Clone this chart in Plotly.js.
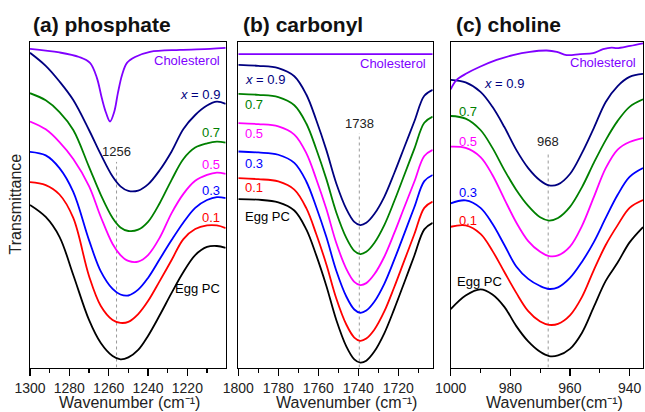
<!DOCTYPE html>
<html>
<head>
<meta charset="utf-8">
<script src="https://cdn.plot.ly/plotly-3.0.1.min.js"></script>
<style>html,body{margin:0;padding:0;background:#fff}#chart{width:645px;height:412px}</style>
</head>
<body>
<div id="chart"></div>
<script>
// ---------- (a) phosphate ----------
const wnA = [1300,1292,1285,1278,1270,1264,1258,1254,1250,1245,1240,1234,1228,1222,1216,1210,1205,1200.5];
const eggA = [49.9,46.2,40.1,28.4,14.6,7.5,3.5,2.5,3.1,5.4,9.7,16.1,22.9,29.3,34.5,37.0,37.3,36.7];
const x01A = [56.9,56.0,53.1,45.9,28.1,18.9,14.6,13.7,14.0,16.4,20.4,26.6,33.0,39.4,42.5,43.6,43.6,42.8];
const x03A = [66.2,65.1,61.2,53.9,39.1,29.5,24.1,22.4,22.1,23.9,27.5,33.3,39.1,44.5,49.0,51.4,52.3,52.0];
const x05A = [75.5,73.1,69.2,64.0,55.7,46.2,37.9,34.5,32.7,32.5,34.5,39.9,47.4,53.3,57.3,59.1,59.8,59.4];
const x07A = [84.2,82.0,78.4,72.9,61.6,53.0,45.9,43.0,41.9,42.3,44.7,50.5,57.6,64.0,67.5,68.8,69.3,69.0];
const x09A = [96.6,92.6,87.8,82.1,72.9,65.4,58.6,55.6,54.2,54.3,56.2,60.6,66.3,73.2,77.5,80.4,81.6,80.9];
const cholWnA = [1300,1285,1275,1269.5,1266,1263.5,1261.3,1259.3,1257.2,1255.3,1253.2,1250.7,1246.6,1239,1223.7,1208.5,1200.5];
const cholA = [97.8,96.7,95.3,93.5,88.9,82.7,78.1,75.5,78.4,84.3,89.8,93.5,95.3,96.9,97.5,97.8,98.1];
const peakA = 1256;

// ---------- (b) carbonyl ----------
const wnB = [1800,1790,1780,1772,1766,1761,1756,1751,1746,1742,1739,1736,1732,1727,1722,1717,1712,1707,1702.8];
const eggB = [51.7,51.5,50.7,48.2,42.4,34.4,25.1,14.6,6.5,2.5,1.5,2.1,4.9,10.5,18.0,26.1,34.3,42.4,44.4];
const x01B = [58.1,57.8,57.1,54.6,48.9,40.9,31.7,21.2,13.2,9.2,8.2,8.9,11.6,17.2,24.7,32.8,40.9,49.0,50.9];
const x03B = [66.3,66.0,65.3,62.8,57.1,49.2,40.1,29.7,21.8,17.8,16.8,17.5,20.2,25.7,33.1,41.1,49.2,57.2,59.1];
const x05B = [75.0,74.7,74.0,71.5,65.8,57.8,48.7,38.2,30.3,26.3,25.3,25.9,28.6,34.0,41.3,49.2,57.0,64.9,66.8];
const x07B = [84.0,83.7,83.0,80.5,74.9,67.0,57.9,47.6,39.8,35.8,34.8,35.5,38.2,43.7,51.1,59.1,67.1,75.1,77.0];
const x09B = [92.9,92.6,91.9,89.4,83.8,75.9,66.8,56.5,48.7,44.7,43.7,44.4,47.1,52.4,59.7,67.6,75.5,83.4,85.2];
const cholWnB = [1800,1750,1702.8];
const cholB = [96.2,96.2,96.2];
const peakB = 1739.5;

// ---------- (c) choline ----------
const wnC = [1000,995,990,986,982,978,974,970,967,964,960,956,952,948,944,940,935.5];
const eggC = [17.9,22.1,24.0,22.4,18.6,12.7,8.0,4.8,3.5,3.7,5.7,10.6,18.6,26.6,32.2,38.4,43.1];
const x01C = [43.2,43.6,41.0,35.8,29.3,22.9,17.3,14.1,13.1,13.4,16.0,21.6,29.9,37.6,43.7,49.0,51.4];
const x03C = [50.4,51.3,49.0,44.1,37.6,31.0,27.2,25.0,24.1,24.6,27.5,32.4,38.5,45.9,53.0,58.5,61.2];
const x05C = [67.8,67.4,64.6,59.1,51.7,44.5,38.8,35.5,34.2,34.4,37.1,43.4,52.3,61.2,66.9,69.2,70.4];
const x07C = [77.2,76.4,72.9,67.4,60.6,54.5,49.6,46.1,45.1,45.9,49.3,55.3,62.8,69.8,75.7,80.0,82.3];
const x09C = [88.3,87.5,84.6,80.0,73.8,66.8,61.2,57.4,55.9,56.2,59.4,65.8,73.5,81.5,86.4,89.2,90.1];
const cholWnC = [1000,998,994.6,990.2,984.6,979.1,973.4,967.8,964.4,961.1,956.6,952.2,948.9,946,944.3,939.8,935.5];
const cholC = [85.4,88.3,90.3,92.3,94.4,95.9,96.9,97.3,96.9,95.9,96.2,96.5,97.7,98.2,98.0,98.7,99.5];
const peakC = 967.3;

const seriesNames = ['Egg PC','0.1','0.3','0.5','0.7','x = 0.9','Cholesterol'];
const colors = ['#000000','#FF0000','#0000FF','#FF00FF','#008000','#000080','#8000FF'];

const FONT = 'Arial, "Liberation Sans", sans-serif';
const W = 645, H = 412;
const px = v => v / W, py = v => 1 - v / H;

function mk(x, y, i, ax) {
  return {x: x, y: y, type: 'scatter', mode: 'lines', name: seriesNames[i],
    xaxis: 'x' + ax, yaxis: 'y' + ax,
    line: {color: colors[i], width: 1.8, shape: 'spline', smoothing: 1},
    hoverinfo: 'skip', showlegend: false};
}
const data = [
  mk(wnA, eggA, 0, ''), mk(wnA, x01A, 1, ''), mk(wnA, x03A, 2, ''), mk(wnA, x05A, 3, ''),
  mk(wnA, x07A, 4, ''), mk(wnA, x09A, 5, ''), mk(cholWnA, cholA, 6, ''),
  mk(wnB, eggB, 0, '2'), mk(wnB, x01B, 1, '2'), mk(wnB, x03B, 2, '2'), mk(wnB, x05B, 3, '2'),
  mk(wnB, x07B, 4, '2'), mk(wnB, x09B, 5, '2'), mk(cholWnB, cholB, 6, '2'),
  mk(wnC, eggC, 0, '3'), mk(wnC, x01C, 1, '3'), mk(wnC, x03C, 2, '3'), mk(wnC, x05C, 3, '3'),
  mk(wnC, x07C, 4, '3'), mk(wnC, x09C, 5, '3'), mk(cholWnC, cholC, 6, '3')
];

const yDom = [py(367.5), py(41.7)];
function xax(dom, range, anchor) {
  return {domain: dom, range: range, anchor: anchor, showgrid: false, zeroline: false,
    showline: true, mirror: true, linecolor: '#000', linewidth: 1.2,
    ticks: 'outside', ticklen: 7, tickwidth: 1.2, tickcolor: '#000', dtick: 20, tick0: 0,
    ticklabelstandoff: 0,
    minor: {ticks: 'outside', ticklen: 4, tickwidth: 1.2, tickcolor: '#000', dtick: 10},
    tickfont: {family: FONT, size: 14, color: '#222'}, fixedrange: true};
}
function yax(anchor) {
  return {domain: yDom, range: [0, 100], anchor: anchor, showgrid: false, zeroline: false,
    showline: true, mirror: true, linecolor: '#000', linewidth: 1.2,
    ticks: '', showticklabels: false, fixedrange: true};
}

function lab(text, x, y, i, ax, anchor) {
  return {text: text, x: x, y: y, xref: 'x' + ax, yref: 'y' + ax, showarrow: false,
    xanchor: anchor, yanchor: 'middle', font: {family: FONT, size: 13, color: colors[i]}};
}
function xtitle(text, cx) {
  return {text: text, x: px(cx), y: 0, xref: 'paper', yref: 'paper', showarrow: false,
    xanchor: 'center', yanchor: 'bottom', borderpad: 0, font: {family: FONT, size: 16, color: '#222'}};
}
const annotations = [
  // panel a
  lab('Cholesterol', 1202.4, 94.2, 6, '', 'right'),
  lab('<i>x</i> = 0.9', 1202.4, 83.7, 5, '', 'right'),
  lab('0.7', 1202.4, 72.0, 4, '', 'right'),
  lab('0.5', 1202.4, 62.2, 3, '', 'right'),
  lab('0.3', 1202.4, 54.2, 2, '', 'right'),
  lab('0.1', 1202.4, 45.9, 1, '', 'right'),
  lab('Egg PC', 1202.4, 24.4, 0, '', 'right'),
  {text: '1256', x: peakA, y: 66.2, xref: 'x', yref: 'y', showarrow: false,
    xanchor: 'center', yanchor: 'middle', font: {family: FONT, size: 13, color: '#222'}},
  // panel b
  lab('Cholesterol', 1705.2, 93.4, 6, '2', 'right'),
  lab('<i>x</i> = 0.9', 1797.5, 88.5, 5, '2', 'left'),
  lab('0.7', 1797.5, 80.6, 4, '2', 'left'),
  lab('0.5', 1797.5, 71.9, 3, '2', 'left'),
  lab('0.3', 1797.5, 62.7, 2, '2', 'left'),
  lab('0.1', 1797.5, 55.2, 1, '2', 'left'),
  lab('Egg PC', 1797.5, 46.3, 0, '2', 'left'),
  {text: '1738', x: peakB, y: 74.8, xref: 'x2', yref: 'y2', showarrow: false,
    xanchor: 'center', yanchor: 'middle', font: {family: FONT, size: 13, color: '#222'}},
  // panel c
  lab('Cholesterol', 937.1, 93.7, 6, '3', 'right'),
  lab('<i>x</i> = 0.9', 989.6, 87.2, 5, '3', 'left'),
  lab('0.7', 998, 78.7, 4, '3', 'left'),
  lab('0.5', 998, 69.3, 3, '3', 'left'),
  lab('0.3', 998, 53.8, 2, '3', 'left'),
  lab('0.1', 998, 45.1, 1, '3', 'left'),
  lab('Egg PC', 998.6, 26.3, 0, '3', 'left'),
  {text: '968', x: peakC, y: 69.5, xref: 'x3', yref: 'y3', showarrow: false,
    xanchor: 'center', yanchor: 'middle', font: {family: FONT, size: 13, color: '#222'}},
  // panel titles
  {text: '<b>(a) phosphate</b>', x: px(31), y: py(25), xref: 'paper', yref: 'paper', showarrow: false,
    xanchor: 'left', yanchor: 'middle', font: {family: FONT, size: 21, color: '#111'}},
  {text: '<b>(b) carbonyl</b>', x: px(240.5), y: py(25), xref: 'paper', yref: 'paper', showarrow: false,
    xanchor: 'left', yanchor: 'middle', font: {family: FONT, size: 21, color: '#111'}},
  {text: '<b>(c) choline</b>', x: px(454), y: py(25), xref: 'paper', yref: 'paper', showarrow: false,
    xanchor: 'left', yanchor: 'middle', font: {family: FONT, size: 21, color: '#111'}},
  // axis titles
  xtitle('Wavenumber (cm⁻¹)', 129),
  xtitle('Wavenumber (cm⁻¹)', 346.5),
  xtitle('Wavenumber(cm⁻¹)', 554),
  {text: 'Transmittance', x: px(14.5), y: py(204), xref: 'paper', yref: 'paper', showarrow: false,
    textangle: -90, xanchor: 'center', yanchor: 'middle', font: {family: FONT, size: 16, color: '#222'}}
];

function vline(x, ax, top) {
  return {type: 'line', xref: 'x' + ax, yref: 'y' + ax, x0: x, x1: x, y0: 0, y1: top, layer: 'below',
    line: {color: '#999', width: 1, dash: 'dot'}};
}

const layout = {
  width: W, height: H, margin: {l: 0, r: 0, t: 0, b: 0},
  paper_bgcolor: '#fff', plot_bgcolor: '#fff', showlegend: false,
  xaxis: xax([px(30), px(225.7)], [1300, 1200.5], 'y'),
  yaxis: yax('x'),
  xaxis2: xax([px(238.3), px(432.7)], [1800, 1702.8], 'y2'),
  yaxis2: yax('x2'),
  xaxis3: xax([px(450.7), px(643)], [1000, 935.5], 'y3'),
  yaxis3: yax('x3'),
  annotations: annotations,
  shapes: [vline(peakA, '', 63.1), vline(peakB, '2', 71.9), vline(peakC, '3', 65.9)]
};

Plotly.newPlot('chart', data, layout, {displayModeBar: false, staticPlot: true});
</script>
</body>
</html>
